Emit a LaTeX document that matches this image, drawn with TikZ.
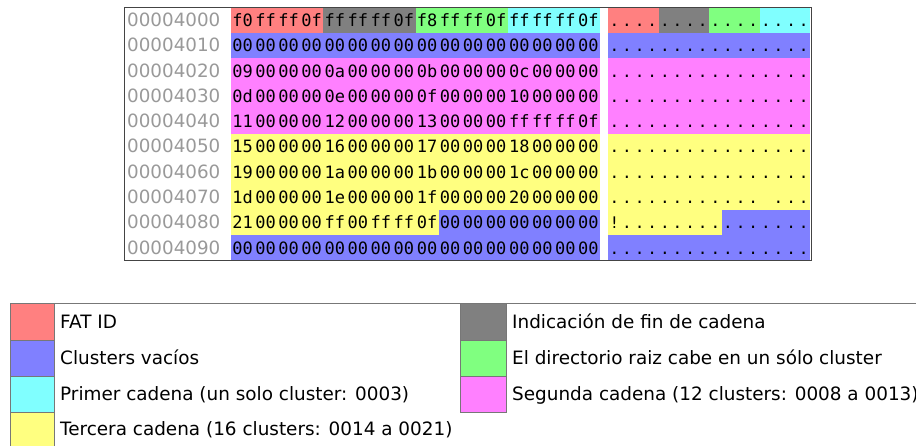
\documentclass[tikz,border=0pt]{standalone}
\usepackage{fontspec}
\setmainfont{DejaVu Sans}
\newfontfamily\hexfont{DejaVu Sans Mono}
\definecolor{cred}{HTML}{FF8080}
\definecolor{cgrey}{HTML}{808080}
\definecolor{cgreen}{HTML}{80FF80}
\definecolor{ccyan}{HTML}{80FFFF}
\definecolor{cblue}{HTML}{8080FF}
\definecolor{cmag}{HTML}{FF80FF}
\definecolor{cyel}{HTML}{FFFF80}
\definecolor{addrgrey}{HTML}{999999}
\definecolor{boxline}{HTML}{444444}
\definecolor{legline}{HTML}{777777}
\begin{document}
\begin{tikzpicture}[x=1pt,y=-1pt,
  hexbyte/.style={anchor=base,inner sep=0pt,font=\hexfont\fontsize{17}{17}\selectfont},
  asciichar/.style={anchor=base,inner sep=0pt,font=\hexfont\fontsize{16}{16}\selectfont},
  addr/.style={anchor=base west,inner sep=0pt,text=addrgrey,font=\fontsize{18.3}{18.3}\selectfont},
  legtext/.style={anchor=base west,inner sep=0pt,font=\fontsize{18.4}{18.4}\selectfont},
  swatch/.style={draw=legline,line width=1pt}]
\useasboundingbox (0,0) rectangle (916,445);
% dump box
\draw[boxline,line width=1pt,fill=white] (124.5,7.5) rectangle (811,260.5);
% colour fills, hex area (x0=231, byte=23.0625) and ascii (x0=608, char=12.625)
\def\hx#1{231+23.0625*#1}
\def\ax#1{608+12.625*#1}
\def\ry#1{7.5+25.3*#1}
% row 0
\fill[cred]   ({\hx0},{\ry0}) rectangle ({\hx4},{\ry1});
\fill[cgrey]  ({\hx4},{\ry0}) rectangle ({\hx8},{\ry1});
\fill[cgreen] ({\hx8},{\ry0}) rectangle ({\hx{12}},{\ry1});
\fill[ccyan]  ({\hx{12}},{\ry0}) rectangle ({\hx{16}},{\ry1});
\fill[cred]   ({\ax0},{\ry0}) rectangle ({\ax4},{\ry1});
\fill[cgrey]  ({\ax4},{\ry0}) rectangle ({\ax8},{\ry1});
\fill[cgreen] ({\ax8},{\ry0}) rectangle ({\ax{12}},{\ry1});
\fill[ccyan]  ({\ax{12}},{\ry0}) rectangle ({\ax{16}},{\ry1});
% row 1
\fill[cblue] ({\hx0},{\ry1}) rectangle ({\hx{16}},{\ry2});
\fill[cblue] ({\ax0},{\ry1}) rectangle ({\ax{16}},{\ry2});
% rows 2-4
\fill[cmag] ({\hx0},{\ry2}) rectangle ({\hx{16}},{\ry5});
\fill[cmag] ({\ax0},{\ry2}) rectangle ({\ax{16}},{\ry5});
% rows 5-7
\fill[cyel] ({\hx0},{\ry5}) rectangle ({\hx{16}},{\ry8});
\fill[cyel] ({\ax0},{\ry5}) rectangle ({\ax{16}},{\ry8});
% row 8
\fill[cyel]  ({\hx0},{\ry8}) rectangle ({\hx9},{\ry9});
\fill[cblue] ({\hx9},{\ry8}) rectangle ({\hx{16}},{\ry9});
\fill[cyel]  ({\ax0},{\ry8}) rectangle ({\ax9},{\ry9});
\fill[cblue] ({\ax9},{\ry8}) rectangle ({\ax{16}},{\ry9});
% row 9
\fill[cblue] ({\hx0},{\ry9}) rectangle ({\hx{16}},{\ry{10}});
\fill[cblue] ({\ax0},{\ry9}) rectangle ({\ax{16}},{\ry{10}});
\draw[boxline,line width=1pt] (124.5,7.5) rectangle (811,260.5);
% addresses
\foreach \a [count=\r from 0] in {00004000,00004010,00004020,00004030,00004040,00004050,00004060,00004070,00004080,00004090}
  \node[addr] (addr\r) at (127,{7.5+25.3*\r+18.9}) {\a};
% hex bytes
\foreach \row [count=\r from 0] in {
 {f0,ff,ff,0f,ff,ff,ff,0f,f8,ff,ff,0f,ff,ff,ff,0f},
 {00,00,00,00,00,00,00,00,00,00,00,00,00,00,00,00},
 {09,00,00,00,0a,00,00,00,0b,00,00,00,0c,00,00,00},
 {0d,00,00,00,0e,00,00,00,0f,00,00,00,10,00,00,00},
 {11,00,00,00,12,00,00,00,13,00,00,00,ff,ff,ff,0f},
 {15,00,00,00,16,00,00,00,17,00,00,00,18,00,00,00},
 {19,00,00,00,1a,00,00,00,1b,00,00,00,1c,00,00,00},
 {1d,00,00,00,1e,00,00,00,1f,00,00,00,20,00,00,00},
 {21,00,00,00,ff,00,ff,ff,0f,00,00,00,00,00,00,00},
 {00,00,00,00,00,00,00,00,00,00,00,00,00,00,00,00}}
 {\foreach \b [count=\c from 0] in \row
   \node[hexbyte] (h\r-\c) at ({231+23.0625*(\c+0.5)},{7.5+25.3*\r+18.9}) {\b};}
% ascii column
\foreach \row [count=\r from 0] in {
 {.,.,.,.,.,.,.,.,.,.,.,.,.,.,.,.},
 {.,.,.,.,.,.,.,.,.,.,.,.,.,.,.,.},
 {.,.,.,.,.,.,.,.,.,.,.,.,.,.,.,.},
 {.,.,.,.,.,.,.,.,.,.,.,.,.,.,.,.},
 {.,.,.,.,.,.,.,.,.,.,.,.,.,.,.,.},
 {.,.,.,.,.,.,.,.,.,.,.,.,.,.,.,.},
 {.,.,.,.,.,.,.,.,.,.,.,.,.,.,.,.},
 {.,.,.,.,.,.,.,.,.,.,.,.,{},.,.,.},
 {!,.,.,.,.,.,.,.,.,.,.,.,.,.,.,.},
 {.,.,.,.,.,.,.,.,.,.,.,.,.,.,.,.}}
 {\foreach \ch [count=\c from 0] in \row
   \node[asciichar] (a\r-\c) at ({608+12.625*(\c+0.5)},{7.5+25.3*\r+18.9}) {\ch};}
% legend
\draw[legline,line width=1pt] (10,303) -- (916,303);
\draw[legline,line width=1pt] (10,303) -- (10,446);
\draw[swatch,fill=cred]  (10,303) rectangle (54,340);
\draw[swatch,fill=cblue] (10,340) rectangle (54,376);
\draw[swatch,fill=ccyan] (10,376) rectangle (54,412);
\draw[swatch,fill=cyel]  (10,412) rectangle (54,450);
\draw[swatch,fill=cgrey]  (460,303) rectangle (506,340);
\draw[swatch,fill=cgreen] (460,340) rectangle (506,376);
\draw[swatch,fill=cmag]   (460,376) rectangle (506,412);
\node[legtext] (l1) at (60,328) {FAT ID};
\node[legtext] (l2) at (60,364) {Clusters vacíos};
\node[legtext] (l3) at (60,400) {Primer cadena (un solo cluster: 0003)};
\node[legtext] (l4) at (60,435) {Tercera cadena (16 clusters: 0014 a 0021)};
\node[legtext] (r1) at (512,328) {Indicación de fin de cadena};
\node[legtext] (r2) at (512,364) {El directorio raiz cabe en un sólo cluster};
\node[legtext] (r3) at (512,400) {Segunda cadena (12 clusters: 0008 a 0013)};
\end{tikzpicture}
\end{document}
